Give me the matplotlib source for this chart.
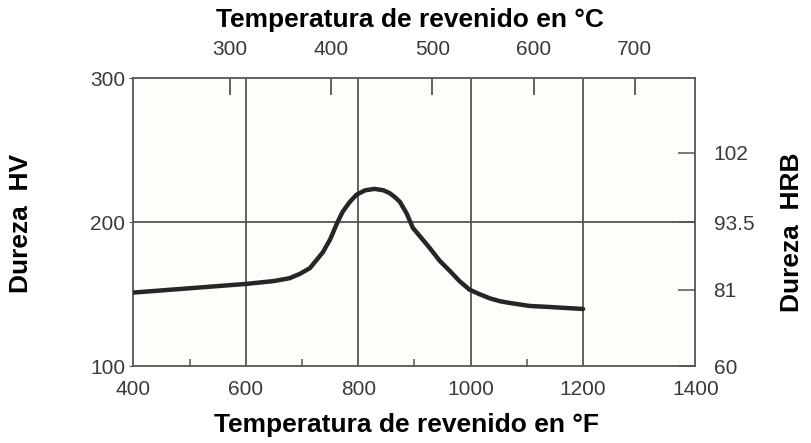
import matplotlib.pyplot as plt
import matplotlib as mpl

# curve: tempering temperature (°F) vs hardness (HV)
temp_f = [400, 500, 600, 650, 678, 696, 714, 737, 750, 762, 772, 785, 797,
          812, 829, 845, 856, 866, 874, 886, 897, 912, 927, 945, 963, 980,
          998, 1015, 1034, 1052, 1069, 1105, 1140, 1170, 1200]
hard_hv = [151, 154, 157, 159, 161, 164, 168, 179, 188, 199, 207, 214, 219,
           222, 223, 222, 220, 217, 214, 206, 196, 189, 182, 173, 166, 159,
           153, 150, 147, 145, 143.8, 141.7, 141, 140.3, 139.6]

f_ticks = [400, 600, 800, 1000, 1200, 1400]
f_minor = [500, 700, 900, 1100]
c_ticks = [300, 400, 500, 600, 700]
hv_ticks = [100, 200, 300]
hrb_pos = [100, 153, 200, 248]
hrb_labels = ['60', '81', '93.5', '102']

mpl.rcParams['font.family'] = ['Liberation Sans', 'DejaVu Sans']
tick_col = '#3a3a3a'
grid_col = '#555555'
tsize = 15

fig = plt.figure(figsize=(8.12, 4.43), dpi=100)
ax = fig.add_axes([0.1644, 0.1738, 0.6921, 0.6501])
ax.set_facecolor('#fdfdf9')

ax.plot(temp_f, hard_hv, color='#262626', lw=3.2, solid_capstyle='round',
        solid_joinstyle='round', zorder=3)

ax.set_xlim(400, 1400)
ax.set_ylim(100, 300)

for x in f_ticks[1:-1]:
    ax.axvline(x, color=grid_col, lw=1.3, zorder=1)
ax.axhline(200, color=grid_col, lw=1.3, zorder=1)

for s in ax.spines.values():
    s.set_color(grid_col)
    s.set_linewidth(1.3)

ax.set_xticks(f_ticks)
ax.set_xticks(f_minor, minor=True)
ax.set_yticks(hv_ticks)
ax.tick_params(axis='x', which='major', direction='in', length=0, pad=10,
               labelsize=tsize, labelcolor=tick_col)
ax.tick_params(axis='x', which='minor', direction='in', length=5, width=1.1,
               color=grid_col)
ax.tick_params(axis='y', direction='out', length=3, pad=3, labelsize=tsize,
               labelcolor=tick_col, color=grid_col)

top = ax.secondary_xaxis('top', functions=(lambda f: (f - 32) * 5 / 9,
                                          lambda c: c * 9 / 5 + 32))
top.set_xticks(c_ticks)
top.tick_params(direction='in', length=12, width=1.3, color=grid_col, pad=14,
                labelsize=tsize, labelcolor=tick_col)
top.spines['top'].set_visible(False)

right = ax.twinx()
right.set_ylim(100, 300)
right.set_yticks(hrb_pos)
right.set_yticklabels(hrb_labels)
right.tick_params(direction='in', length=12, width=1.1, color=grid_col, pad=13,
                  labelsize=tsize, labelcolor=tick_col)
for s in right.spines.values():
    s.set_visible(False)

title_kw = dict(ha='center', va='center', fontsize=19, fontweight='bold',
                family='Liberation Sans')
fig.text(0.505, 0.955, 'Temperatura de revenido en °C', **title_kw)
fig.text(0.501, 0.04, 'Temperatura de revenido en °F', **title_kw)
fig.text(0.026, 0.495, 'Dureza  HV', rotation=90, **title_kw)
fig.text(0.975, 0.476, 'Dureza  HRB', rotation=90, **title_kw)

fig.savefig('out.png', dpi=100)
